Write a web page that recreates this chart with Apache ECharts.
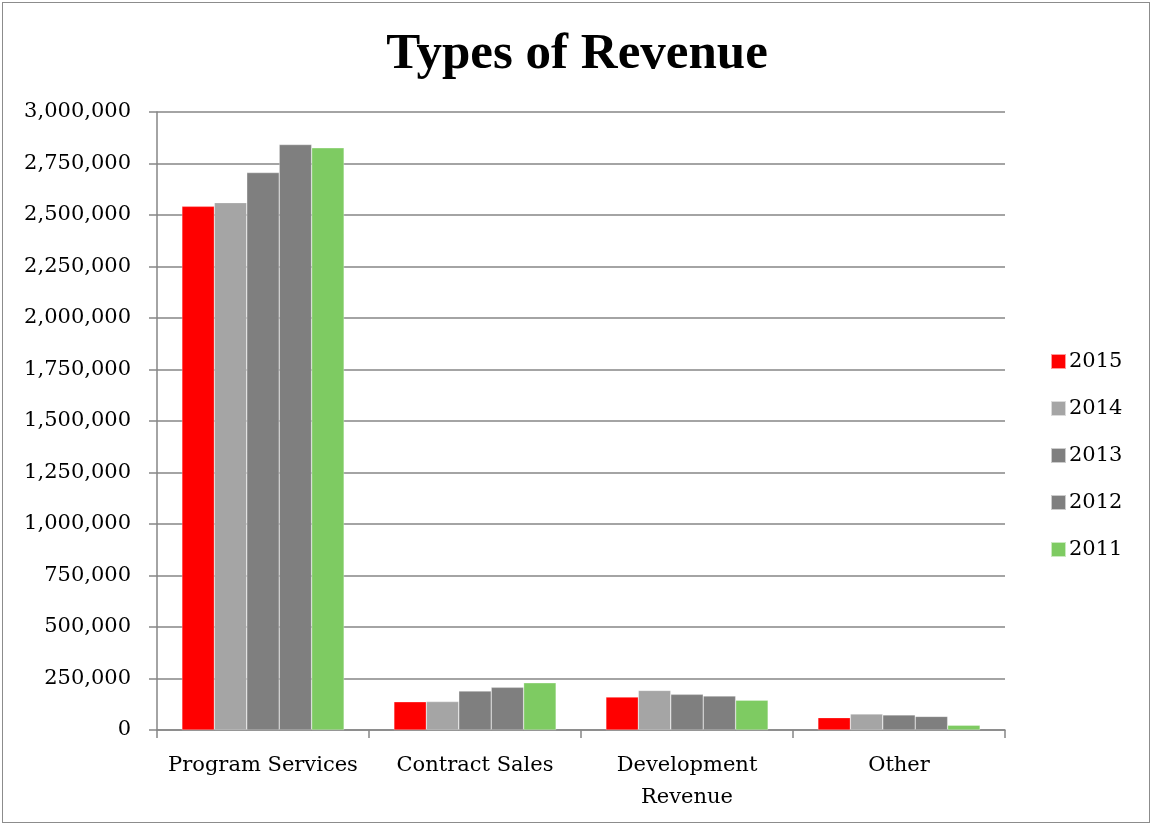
<!DOCTYPE html>
<html><head><meta charset="utf-8">
<script src="https://cdn.jsdelivr.net/npm/echarts@6/dist/echarts.min.js"></script>
<style>
html,body{margin:0;padding:0;background:#fff;}
#frame{position:absolute;left:2px;top:2px;width:1148px;height:821px;border:1px solid #8c8c8c;box-sizing:border-box;}
#c{position:absolute;left:0;top:0;width:1154px;height:827px;}
</style></head>
<body>
<div id="frame"></div>
<div id="c"></div>
<script>
const categories = ['Program Services', 'Contract Sales', 'Development\nRevenue', 'Other'];
const years = ['2015', '2014', '2013', '2012', '2011'];
const v2015 = [2542000, 137000, 160000, 60000];
const v2014 = [2560000, 138000, 192000, 78000];
const v2013 = [2706000, 189000, 173000, 73000];
const v2012 = [2842000, 207000, 165000, 66000];
const v2011 = [2826000, 229000, 145000, 23000];
const yTicks = [0, 250000, 500000, 750000, 1000000, 1250000, 1500000, 1750000, 2000000, 2250000, 2500000, 2750000, 3000000];

const colors = ['#FF0000', '#A5A5A5', '#7F7F7F', '#7F7F7F', '#7ECB62'];
const values = [v2015, v2014, v2013, v2012, v2011];
const font = 'DejaVu Serif, serif';
const titleFont = 'Liberation Serif, serif';

const chart = echarts.init(document.getElementById('c'));
chart.setOption({
  animation: false,
  title: {
    text: 'Types of Revenue', left: 'center', top: 24,
    textStyle: { fontFamily: titleFont, fontWeight: 'bold', fontSize: 51, color: '#000' }
  },
  legend: {
    orient: 'vertical', left: 1045, top: 346, itemWidth: 15, itemHeight: 15, itemGap: 26,
    icon: 'rect', textStyle: { fontFamily: font, fontSize: 21, color: '#000', padding: [0, 0, 0, -2] },
    data: years
  },
  grid: { left: 157, right: 149, top: 112, bottom: 97, containLabel: false },
  xAxis: {
    type: 'category', data: categories,
    axisLine: { lineStyle: { color: '#868686', width: 1.5 } },
    axisTick: { show: true, interval: 0, length: 8, lineStyle: { color: '#868686', width: 1.5 } },
    axisLabel: { interval: 0, fontFamily: font, fontSize: 21, color: '#000', margin: 20, lineHeight: 32 }
  },
  yAxis: {
    type: 'value', min: 0, max: 3000000, interval: 250000,
    axisLine: { show: true, lineStyle: { color: '#868686', width: 1.5 } },
    axisTick: { show: true, length: 8, lineStyle: { color: '#868686', width: 1.5 } },
    splitLine: { lineStyle: { color: '#868686', width: 1.5 } },
    axisLabel: {
      fontFamily: font, fontSize: 21, color: '#000', margin: 26,
      formatter: v => v.toLocaleString('en-US')
    }
  },
  series: years.map((y, i) => ({
    name: y, type: 'bar', data: values[i], barGap: '0%', barCategoryGap: '23.5%',
    itemStyle: { color: colors[i], borderColor: 'rgba(255,255,255,0.6)', borderWidth: 0.5 }
  }))
});
</script>
</body></html>
